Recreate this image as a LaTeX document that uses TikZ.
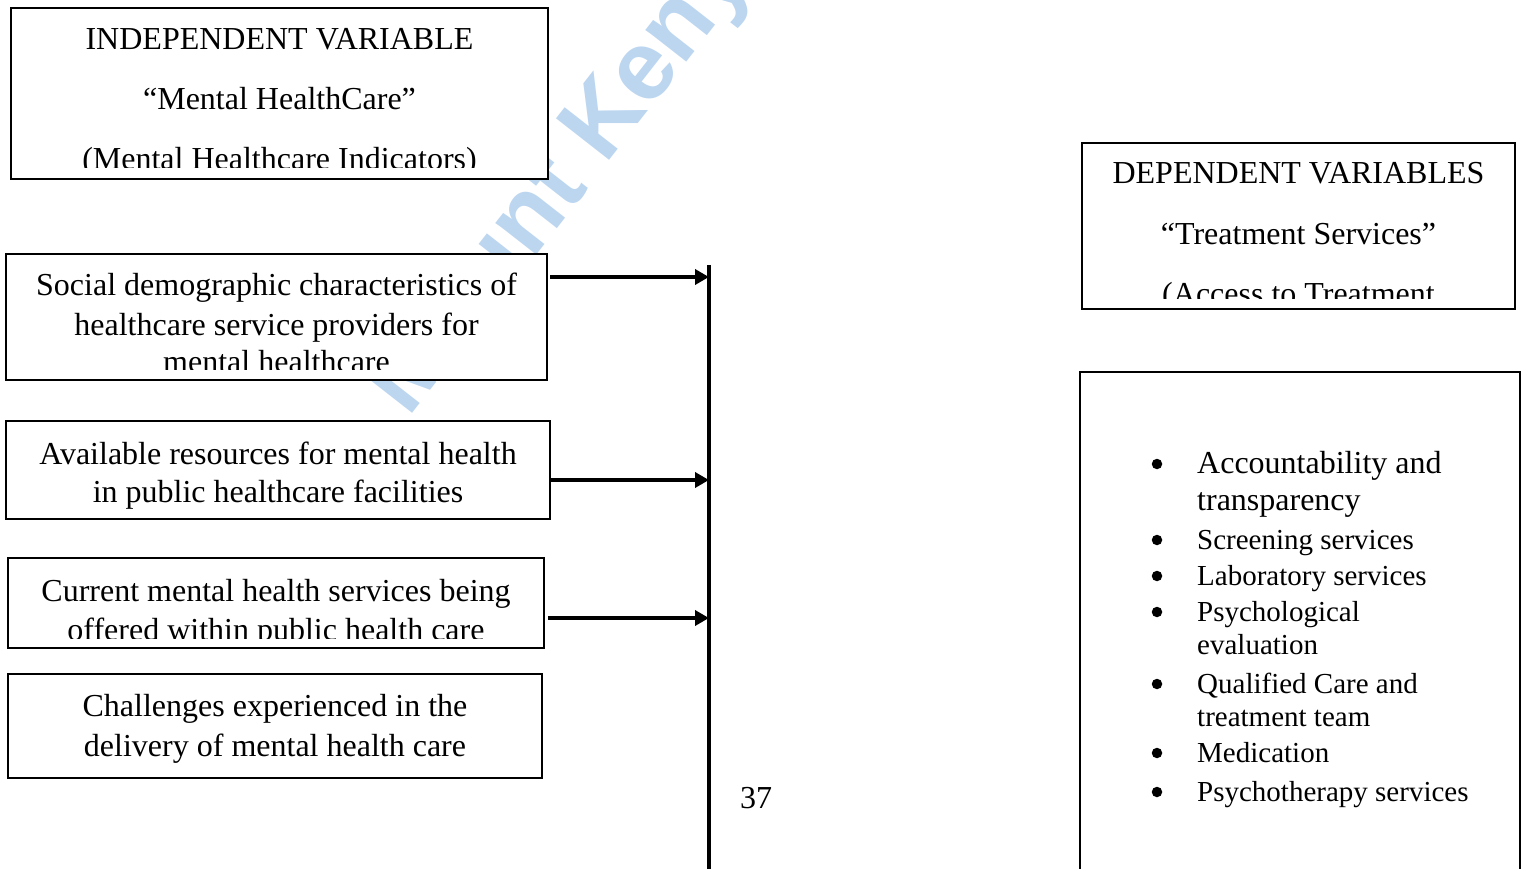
\documentclass[tikz,border=0pt]{standalone}
\usepackage{fontspec}
\setmainfont{Liberation Serif}
\newfontfamily\wmfont{Liberation Sans}
\usetikzlibrary{arrows.meta}
\definecolor{wmblue}{RGB}{188,214,240}
\begin{document}
\begin{tikzpicture}[x=1pt,y=-1pt,
  box/.style={draw=black, line width=2pt, fill=white, rectangle, anchor=north west, inner sep=0pt, outer sep=0pt},
  txt/.style={anchor=base, inner sep=0pt, font=\fontsize{32}{38}\selectfont},
  ltxt/.style={anchor=base west, inner sep=0pt, font=\fontsize{29}{35}\selectfont},
  bul/.style={circle, fill=black, inner sep=0pt, minimum size=10.5pt},
  arr/.style={line width=4pt, -{Triangle[length=14pt,width=15pt]}},
  vline/.style={line width=4pt}]
\useasboundingbox (0,0) rectangle (1524,869);
\clip (0,0) rectangle (1524,869);
% watermark
\node[rotate=52, text=wmblue, inner sep=0pt, font=\wmfont\bfseries\fontsize{98}{98}\selectfont] (wm) at (579,162) {Mount Kenya};
% boxes
\node[box, minimum width=537, minimum height=171] (iv) at (11,8) {};
\node[box, minimum width=433, minimum height=166] (dv) at (1082,143) {};
\node[box, minimum width=541, minimum height=126] (soc) at (6,254) {};
\node[box, minimum width=544, minimum height=98] (avail) at (6,421) {};
\node[box, minimum width=536, minimum height=90] (curr) at (8,558) {};
\node[box, minimum width=534, minimum height=104] (chal) at (8,674) {};
\node[box, minimum width=440, minimum height=540] (lst) at (1080,372) {};
% independent variable
\begin{scope}
\clip (11,8) rectangle (548,168);
\node[txt] (iv1) at (279.5,50) {INDEPENDENT VARIABLE};
\node[txt] (iv2) at (279.5,110) {“Mental HealthCare”};
\node[txt] (iv3) at (279.5,170) {(Mental Healthcare Indicators)};
\end{scope}
% dependent variables
\begin{scope}
\clip (1082,143) rectangle (1515,298);
\node[txt] (dv1) at (1298.5,184) {DEPENDENT VARIABLES};
\node[txt] (dv2) at (1298.5,245) {“Treatment Services”};
\node[txt] (dv3) at (1298.5,304) {(Access to Treatment};
\end{scope}
% social
\begin{scope}
\clip (6,254) rectangle (547,369);
\node[txt] (s1) at (276.5,295) {Social demographic characteristics of};
\node[txt] (s2) at (276.5,335) {healthcare service providers for};
\node[txt] (s3) at (276.5,372) {mental healthcare};
\end{scope}
% available
\node[txt] (a1t) at (278,464) {Available resources for mental health};
\node[txt] (a2t) at (278,502) {in public healthcare facilities};
% current
\begin{scope}
\clip (8,558) rectangle (544,638);
\node[txt] (c1) at (276,601) {Current mental health services being};
\node[txt] (c2) at (276,640) {offered within public health care};
\end{scope}
% challenges
\node[txt] (h1) at (275,716) {Challenges experienced in the};
\node[txt] (h2) at (275,756) {delivery of mental health care};
% connectors
\coordinate (vtop) at (709,265);
\coordinate (vbot) at (709,869);
\coordinate (t1) at (709,277);
\coordinate (t2) at (709,480);
\coordinate (t3) at (709,618);
\draw[vline] (vtop) -- (vbot);
\draw[arr] ([xshift=3pt]soc.east |- t1) -- (t1);
\draw[arr] ([xshift=1pt]avail.east |- t2) -- (t2);
\draw[arr] ([xshift=4pt]curr.east |- t3) -- (t3);
% page number
\node[txt] (pg) at (756,808) {37};
% list
\node[bul] (b1) at (1157,464) {};
\node[ltxt, font=\fontsize{32}{38}\selectfont] (l1) at (1197,473) {Accountability and};
\node[ltxt, font=\fontsize{32}{38}\selectfont] (l1b) at (1197,510) {transparency};
\node[bul] (b2) at (1157,540) {};
\node[ltxt] (l2) at (1197,549) {Screening services};
\node[bul] (b3) at (1157,576) {};
\node[ltxt] (l3) at (1197,585) {Laboratory services};
\node[bul] (b4) at (1157,612) {};
\node[ltxt] (l4) at (1197,621) {Psychological};
\node[ltxt] (l4b) at (1197,654) {evaluation};
\node[bul] (b5) at (1157,684) {};
\node[ltxt] (l5) at (1197,693) {Qualified Care and};
\node[ltxt] (l5b) at (1197,726) {treatment team};
\node[bul] (b6) at (1157,753) {};
\node[ltxt] (l6) at (1197,762) {Medication};
\node[bul] (b7) at (1157,792) {};
\node[ltxt] (l7) at (1197,801) {Psychotherapy services};
\end{tikzpicture}
\end{document}
